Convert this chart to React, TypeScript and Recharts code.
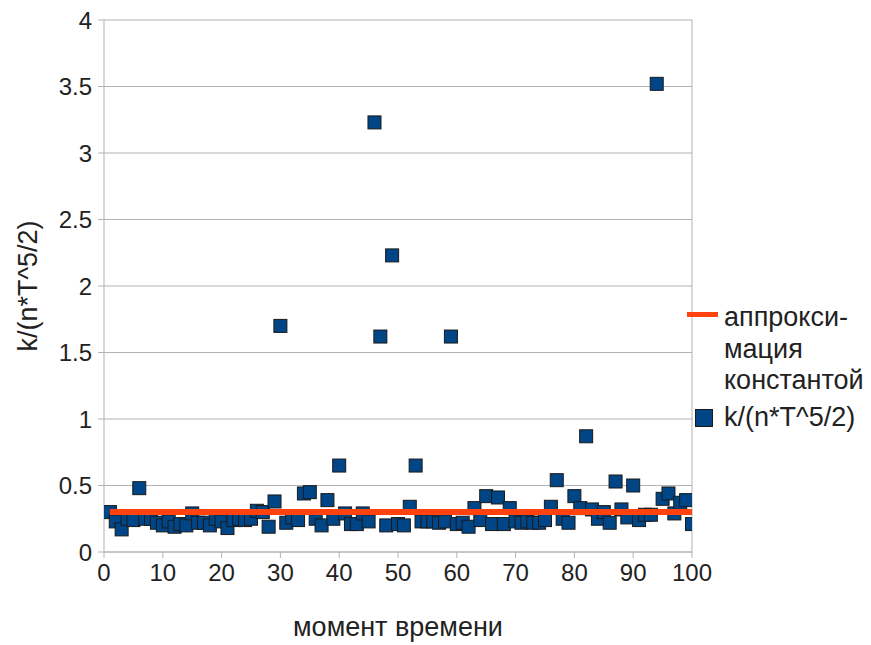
import React from "react";
import {
  ScatterChart,
  Scatter,
  XAxis,
  YAxis,
  CartesianGrid,
  Legend,
  ReferenceLine,
} from "recharts";

const timeMoments = [
  1, 2, 3, 4, 5, 6, 7, 8, 9, 10, 11, 12, 13, 14, 15, 16, 17, 18, 19, 20,
  21, 22, 23, 24, 25, 26, 27, 28, 29, 30, 31, 32, 33, 34, 35, 36, 37, 38, 39, 40,
  41, 42, 43, 44, 45, 46, 47, 48, 49, 50, 51, 52, 53, 54, 55, 56, 57, 58, 59, 60,
  61, 62, 63, 64, 65, 66, 67, 68, 69, 70, 71, 72, 73, 74, 75, 76, 77, 78, 79, 80,
  81, 82, 83, 84, 85, 86, 87, 88, 89, 90, 91, 92, 93, 94, 95, 96, 97, 98, 99, 100,
];

const kValues = [
  0.30, 0.23, 0.17, 0.25, 0.24, 0.48, 0.25, 0.25, 0.22, 0.20,
  0.23, 0.19, 0.21, 0.20, 0.29, 0.22, 0.22, 0.20, 0.25, 0.23,
  0.18, 0.24, 0.25, 0.24, 0.25, 0.31, 0.30, 0.19, 0.38, 1.70,
  0.22, 0.26, 0.24, 0.44, 0.45, 0.25, 0.20, 0.39, 0.25, 0.65,
  0.29, 0.21, 0.21, 0.29, 0.23, 3.23, 1.62, 0.20, 2.23, 0.21,
  0.20, 0.34, 0.65, 0.23, 0.23, 0.23, 0.22, 0.23, 1.62, 0.21,
  0.22, 0.19, 0.33, 0.24, 0.42, 0.21, 0.41, 0.21, 0.33, 0.23,
  0.22, 0.23, 0.22, 0.22, 0.24, 0.34, 0.54, 0.25, 0.22, 0.42,
  0.33, 0.87, 0.32, 0.25, 0.30, 0.22, 0.53, 0.32, 0.26, 0.50,
  0.24, 0.28, 0.28, 3.52, 0.40, 0.44, 0.29, 0.37, 0.39, 0.21,
];

const approxX = [1, 100];
const approxValue = [0.3, 0.3];

const xTicks = [0, 10, 20, 30, 40, 50, 60, 70, 80, 90, 100];
const yTicks = [0, 0.5, 1, 1.5, 2, 2.5, 3, 3.5, 4];

const seriesName = "k/(n*T^5/2)";
const approxNameLines = ["аппрокси-", "мация", "константой"];
const xTitle = "момент времени";
const yTitle = "k/(n*T^5/2)";

const pointData = timeMoments.map((t, i) => ({ x: t, y: kValues[i] }));
const approxData = approxX.map((t, i) => ({ x: t, y: approxValue[i] }));

const BLUE = "#004586";
const ORANGE = "#ff420e";
const GRID = "#b3b3b3";
const TEXT = "#222222";
const FONT = "'Liberation Sans', Arial, sans-serif";

const SquareShape = (props: any) => {
  const { cx, cy } = props;
  if (cx == null || cy == null) return <g />;
  const s = 13;
  return (
    <rect
      x={cx - s / 2}
      y={cy - s / 2}
      width={s}
      height={s}
      fill={BLUE}
      stroke="#1a1a1a"
      strokeWidth={1}
    />
  );
};

const NoShape = () => <g />;

const LegendContent = () => (
  <div style={{ fontFamily: FONT, fontSize: 27, color: TEXT, lineHeight: "31.5px", textAlign: "left" }}>
    <div style={{ display: "flex", alignItems: "flex-start" }}>
      <svg width={37} height={31} style={{ flexShrink: 0 }}>
        <line x1={0} y1={12.5} x2={31} y2={12.5} stroke={ORANGE} strokeWidth={5} />
      </svg>
      <div style={{ whiteSpace: "nowrap" }}>
        {approxNameLines.map((l) => (
          <div key={l}>{l}</div>
        ))}
      </div>
    </div>
    <div style={{ display: "flex", alignItems: "flex-start", marginTop: 5 }}>
      <svg width={37} height={31} style={{ flexShrink: 0 }}>
        <rect x={8.5} y={7.5} width={17} height={17} fill={BLUE} stroke="#1a1a1a" strokeWidth={1} />
      </svg>
      <div style={{ whiteSpace: "nowrap" }}>{seriesName}</div>
    </div>
  </div>
);

const YTitle = (props: any) => {
  const vb = props.viewBox || { x: 0, y: 20, width: 104, height: 532 };
  const x = vb.x + 37;
  const y = vb.y + vb.height / 2;
  return (
    <text
      x={x}
      y={y}
      transform={`rotate(-90, ${x}, ${y})`}
      textAnchor="middle"
      fontFamily={FONT}
      fontSize={27}
      fill={TEXT}
    >
      {yTitle}
    </text>
  );
};

const XTitle = (props: any) => {
  const vb = props.viewBox || { x: 104, y: 552, width: 588, height: 85 };
  return (
    <text
      x={vb.x + vb.width / 2}
      y={vb.y + 84}
      textAnchor="middle"
      fontFamily={FONT}
      fontSize={27}
      fill={TEXT}
    >
      {xTitle}
    </text>
  );
};

export default function App() {
  return (
    <div style={{ position: "absolute", left: 0, top: 0, background: "#fff" }}>
      <ScatterChart
        width={871}
        height={645}
        margin={{ top: 20, right: 179, bottom: 8, left: 0 }}
      >
        <CartesianGrid vertical={false} stroke={GRID} strokeWidth={1} />
        <XAxis
          type="number"
          dataKey="x"
          domain={[0, 100]}
          ticks={xTicks}
          allowDataOverflow
          height={85}
          stroke={GRID}
          tickSize={6}
          tickMargin={6}
          tick={{ fill: TEXT, fontSize: 24, fontFamily: FONT }}
          label={{ content: XTitle }}
        />
        <YAxis
          type="number"
          dataKey="y"
          domain={[0, 4]}
          ticks={yTicks}
          allowDataOverflow
          width={104}
          stroke={GRID}
          tickSize={6}
          tickMargin={6}
          tick={{ fill: TEXT, fontSize: 24, fontFamily: FONT }}
          label={{ content: YTitle }}
        />
        <ReferenceLine x={100} stroke={GRID} strokeWidth={1} />
        <Scatter
          name={seriesName}
          data={pointData}
          shape={SquareShape}
          isAnimationActive={false}
        />
        <Scatter
          name={approxNameLines.join("")}
          data={approxData}
          shape={NoShape}
          line={{ stroke: ORANGE, strokeWidth: 6 }}
          lineType="joint"
          isAnimationActive={false}
        />
        <Legend
          layout="horizontal"
          verticalAlign="middle"
          align="center"
          content={LegendContent}
          wrapperStyle={{ position: "absolute", left: 687, top: 302, width: 184 }}
        />
      </ScatterChart>
    </div>
  );
}
